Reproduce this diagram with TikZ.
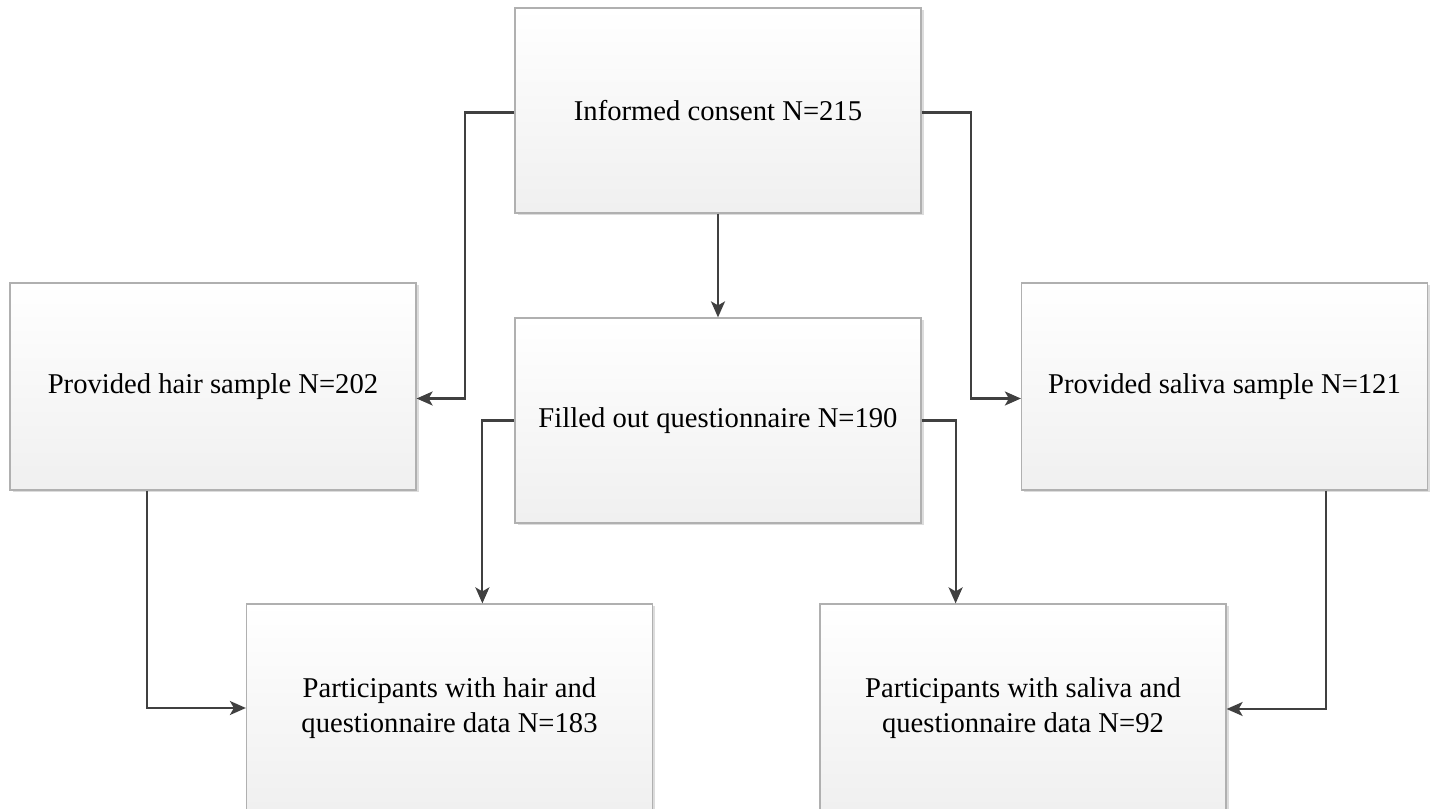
\documentclass[tikz,border=0pt]{standalone}
\usepackage{fontspec}
\setmainfont{Liberation Serif}
\usepackage{tikz}
\usetikzlibrary{arrows.meta, shadows}
\definecolor{boxedge}{RGB}{176,176,176}
\definecolor{linegray}{RGB}{64,64,64}

\begin{document}
\begin{tikzpicture}[
    every node/.style={font=\fontsize{8.15}{10}\selectfont},
    stagebox/.style={draw=boxedge, line width=0.35pt, top color=white, bottom color=gray!12,
      minimum width=4.06cm, align=center,
      drop shadow={shadow xshift=0.025cm, shadow yshift=-0.025cm, fill=gray!60, opacity=0.45}},
    conn/.style={draw=linegray, line width=0.6pt, -{Stealth[length=1.6mm, width=1.4mm, inset=0.4mm]}}]
    \useasboundingbox (0,0) rectangle (14.32,-8.09);
    % Caixas do fluxo
    \node[stagebox, minimum height=2.05cm] (consent) at (7.18,-1.105) {Informed consent N=215};
    \node[stagebox, minimum height=2.07cm] (hair) at (2.13,-3.865) {Provided hair sample N=202};
    \node[stagebox, minimum height=2.05cm] (quest) at (7.18,-4.205) {Filled out questionnaire N=190};
    \node[stagebox, minimum height=2.07cm] (saliva) at (12.245,-3.865) {Provided saliva sample N=121};
    \node[stagebox, minimum height=2.08cm] (hairq) at (4.495,-7.08)
      {Participants with hair and\\questionnaire data N=183};
    \node[stagebox, minimum height=2.08cm] (salivaq) at (10.23,-7.08)
      {Participants with saliva and\\questionnaire data N=92};
    % Conectores
    \draw[conn] ([yshift=-0.02cm]consent.west) -- ++(-0.49,0) |- ([yshift=-0.12cm]hair.east);
    \draw[conn] ([yshift=-0.02cm]consent.east) -- ++(0.49,0) |- ([yshift=-0.12cm]saliva.west);
    \draw[conn] (consent.south) -- (quest.north);
    \draw[conn] (quest.west) -- ++(-0.32,0) coordinate (ql) -- (ql |- hairq.north);
    \draw[conn] (quest.east) -- ++(0.34,0) coordinate (qr) -- (qr |- salivaq.north);
    \draw[conn] ([xshift=-0.66cm]hair.south) |- (hairq.west);
    \draw[conn] ([xshift=1.015cm]saliva.south) |- ([yshift=-0.01cm]salivaq.east);
\end{tikzpicture}
\end{document}
